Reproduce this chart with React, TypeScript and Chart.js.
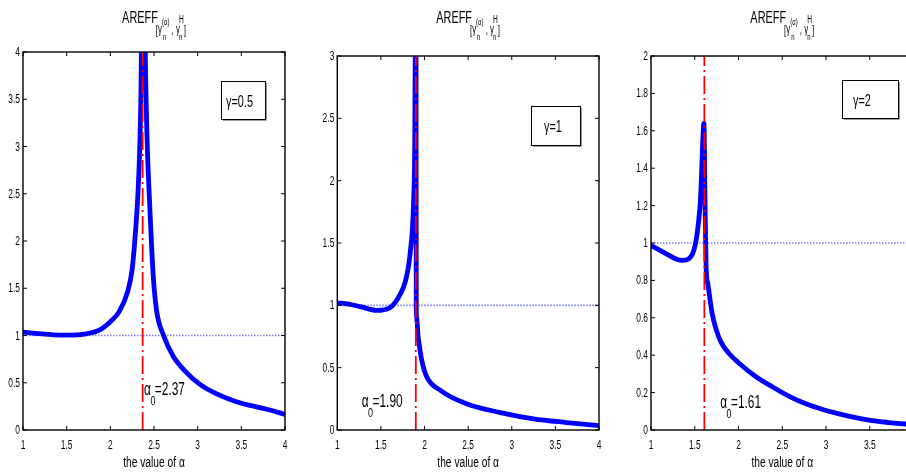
import React, { useEffect, useRef } from 'react';
import { Chart, registerables } from 'chart.js';

Chart.register(...registerables);

// ---------- data ----------
const X_TICKS = [1, 1.5, 2, 2.5, 3, 3.5, 4];
const X_TICK_LABELS = ['1', '1.5', '2', '2.5', '3', '3.5', '4'];

const Y_TICKS_1 = [0, 0.5, 1, 1.5, 2, 2.5, 3, 3.5, 4];
const Y_TICK_LABELS_1 = ['0', '0.5', '1', '1.5', '2', '2.5', '3', '3.5', '4'];
const Y_TICKS_2 = [0, 0.5, 1, 1.5, 2, 2.5, 3];
const Y_TICK_LABELS_2 = ['0', '0.5', '1', '1.5', '2', '2.5', '3'];
const Y_TICKS_3 = [0, 0.2, 0.4, 0.6, 0.8, 1, 1.2, 1.4, 1.6, 1.8, 2];
const Y_TICK_LABELS_3 = ['0', '0.2', '0.4', '0.6', '0.8', '1', '1.2', '1.4', '1.6', '1.8', '2'];

// gamma = 0.5
const ALPHA_1 = [1.0, 1.25, 1.5, 1.7, 1.88, 2.0, 2.1, 2.2, 2.25, 2.28, 2.31, 2.33, 2.345, 2.355, 2.37, 2.4, 2.42, 2.45, 2.49, 2.53, 2.61, 2.72, 2.87, 3.03, 3.2, 3.41, 3.6, 3.79, 4.0];
const AREFF_1 = [1.035, 1.015, 1.003, 1.015, 1.06, 1.146, 1.25, 1.47, 1.7, 2.0, 2.4, 2.8, 3.3, 4.0, 7.0, 4.0, 3.1, 2.4, 1.65, 1.26, 1.0, 0.78, 0.61, 0.48, 0.39, 0.31, 0.26, 0.22, 0.166];

// gamma = 1
const ALPHA_2 = [1.0, 1.13, 1.26, 1.45, 1.6, 1.73, 1.78, 1.82, 1.84, 1.86, 1.875, 1.887, 1.893, 1.898, 1.903, 1.905, 1.91, 1.925, 1.94, 1.968, 2.025, 2.178, 2.48, 2.87, 3.25, 3.63, 4.0];
const AREFF_2 = [1.02, 1.01, 0.99, 0.96, 0.98, 1.1, 1.19, 1.33, 1.45, 1.6, 1.84, 2.24, 3.0, 5.0, 3.0, 1.0, 0.9, 0.76, 0.68, 0.56, 0.427, 0.32, 0.21, 0.14, 0.09, 0.06, 0.035];

// gamma = 2
const ALPHA_3 = [1.0, 1.17, 1.3, 1.36, 1.46, 1.51, 1.545, 1.565, 1.58, 1.592, 1.605, 1.617, 1.63, 1.65, 1.7, 1.75, 1.8, 1.9, 2.0, 2.2, 2.39, 2.58, 2.77, 2.96, 3.15, 3.34, 3.53, 3.72, 3.91, 4.0];
const AREFF_3 = [0.987, 0.943, 0.912, 0.907, 0.93, 1.0, 1.12, 1.23, 1.4, 1.55, 1.64, 1.23, 0.87, 0.78, 0.62, 0.53, 0.47, 0.405, 0.36, 0.285, 0.23, 0.18, 0.14, 0.11, 0.086, 0.066, 0.05, 0.04, 0.032, 0.029];

const GAMMA_LABELS = ['γ=0.5', 'γ=1', 'γ=2'];
const ALPHA0 = [2.37, 1.9, 1.61];
const ALPHA0_LABELS = ['=2.37', '=1.90', '=1.61'];
const Y_MAX = [4, 3, 2];
const REF_LEVEL = 1;
const X_TITLE = 'the value of α';

// ---------- layout / style ----------
const FONT = '"Liberation Sans", Arial, Helvetica, sans-serif';
const SX = 0.66;
const H = 475;

type PanelCfg = {
  left: number; width: number;
  area: { left: number; right: number; top: number; bottom: number };
  alpha: number[]; areff: number[];
  yTicks: number[]; yLabels: string[]; yMax: number;
  a0: number; a0Label: string; gamma: string;
  box: { x: number; y: number; w: number; h: number; tx: number; ty: number };
  annot: { x: number; y: number };
};

const PANELS: PanelCfg[] = [
  {
    left: 0, width: 300,
    area: { left: 23, right: 285, top: 52, bottom: 430 },
    alpha: ALPHA_1, areff: AREFF_1, yTicks: Y_TICKS_1, yLabels: Y_TICK_LABELS_1, yMax: Y_MAX[0],
    a0: ALPHA0[0], a0Label: ALPHA0_LABELS[0], gamma: GAMMA_LABELS[0],
    box: { x: 221, y: 81, w: 44, h: 38, tx: 226, ty: 107 },
    annot: { x: 2.386, y: 0.37 },
  },
  {
    left: 300, width: 306,
    area: { left: 337.3, right: 599, top: 56, bottom: 430 },
    alpha: ALPHA_2, areff: AREFF_2, yTicks: Y_TICKS_2, yLabels: Y_TICK_LABELS_2, yMax: Y_MAX[1],
    a0: ALPHA0[1], a0Label: ALPHA0_LABELS[1], gamma: GAMMA_LABELS[1],
    box: { x: 531, y: 106, w: 49, h: 39, tx: 544, ty: 132 },
    annot: { x: 1.28, y: 0.187 },
  },
  {
    left: 606, width: 320,
    area: { left: 651, right: 913.5, top: 56, bottom: 430 },
    alpha: ALPHA_3, areff: AREFF_3, yTicks: Y_TICKS_3, yLabels: Y_TICK_LABELS_3, yMax: Y_MAX[2],
    a0: ALPHA0[2], a0Label: ALPHA0_LABELS[2], gamma: GAMMA_LABELS[2],
    box: { x: 842, y: 80, w: 56, h: 38, tx: 853, ty: 106 },
    annot: { x: 1.79, y: 0.116 },
  },
];

function measure(ctx: CanvasRenderingContext2D, s: string, size: number, sx = SX) {
  ctx.save();
  ctx.font = `${size}px ${FONT}`;
  const w = ctx.measureText(s).width * sx;
  ctx.restore();
  return w;
}

function txt(ctx: CanvasRenderingContext2D, s: string, x: number, y: number, size: number,
  align: CanvasTextAlign = 'left', baseline: CanvasTextBaseline = 'alphabetic', sx = SX) {
  ctx.save();
  ctx.font = `${size}px ${FONT}`;
  ctx.fillStyle = '#000';
  ctx.textAlign = align;
  ctx.textBaseline = baseline;
  ctx.translate(x, y);
  ctx.scale(sx, 1);
  ctx.fillText(s, 0, 0);
  ctx.restore();
}

type Seg = { t: string; s: number; dy: number; dx?: number };
type Part = Seg | { stack: Seg[] };
const TITLE_PARTS: Part[] = [
  { t: 'AREFF', s: 16.5, dy: 0 },
  { t: '[', s: 12, dy: 11, dx: -2 },
  { t: 'γ', s: 12, dy: 10 },
  { stack: [{ t: '(α)', s: 9, dy: 2 }, { t: 'n', s: 9, dy: 17, dx: 1 }] },
  { t: ' , ', s: 12, dy: 11 },
  { t: 'γ', s: 12, dy: 10 },
  { stack: [{ t: 'H', s: 10, dy: 0, dx: -1 }, { t: 'n', s: 9, dy: 17, dx: -1 }] },
  { t: ']', s: 12, dy: 11 },
];

function drawTitle(ctx: CanvasRenderingContext2D, cx: number, baseY: number) {
  const widthOf = (p: Part) =>
    'stack' in p
      ? Math.max(...p.stack.map((q) => measure(ctx, q.t, q.s) + (q.dx || 0)))
      : measure(ctx, p.t, p.s) + (p.dx || 0);
  const total = TITLE_PARTS.reduce((a, p) => a + widthOf(p), 0);
  let x = cx - total / 2;
  for (const p of TITLE_PARTS) {
    if ('stack' in p) {
      for (const q of p.stack) txt(ctx, q.t, x + (q.dx || 0), baseY + q.dy, q.s);
    } else {
      txt(ctx, p.t, x + (p.dx || 0), baseY + p.dy, p.s);
    }
    x += widthOf(p);
  }
}

function makeFramePlugin(cfg: PanelCfg) {
  return {
    id: 'matlabFrame',
    afterDraw(chart: any) {
      const ctx: CanvasRenderingContext2D = chart.ctx;
      const xs = chart.scales.x;
      const ys = chart.scales.y;
      const { left, right, top, bottom } = chart.chartArea;
      ctx.save();
      // frame
      ctx.strokeStyle = '#000';
      ctx.lineWidth = 1.4;
      ctx.strokeRect(left, top, right - left, bottom - top);
      // ticks (inward) and labels
      ctx.lineWidth = 1;
      xs.ticks.forEach((t: any, i: number) => {
        const px = xs.getPixelForValue(t.value);
        ctx.beginPath();
        ctx.moveTo(px, bottom); ctx.lineTo(px, bottom - 4);
        ctx.moveTo(px, top); ctx.lineTo(px, top + 4);
        ctx.stroke();
        txt(ctx, X_TICK_LABELS[i], px, bottom + 18.5, 12, 'center', 'alphabetic', 0.7);
      });
      ys.ticks.forEach((t: any, i: number) => {
        const py = ys.getPixelForValue(t.value);
        ctx.beginPath();
        ctx.moveTo(left, py); ctx.lineTo(left + 4, py);
        ctx.moveTo(right, py); ctx.lineTo(right - 4, py);
        ctx.stroke();
        txt(ctx, cfg.yLabels[i], left - 3, py + 4, 12, 'right', 'alphabetic', 0.7);
      });
      // axis title
      txt(ctx, X_TITLE, (left + right) / 2, 467, 15.5, 'center');
      // chart title
      drawTitle(ctx, (left + right) / 2, 23);
      // gamma box (canvas-relative coordinates)
      const bx = cfg.box.x - cfg.left;
      const tx = cfg.box.tx - cfg.left;
      ctx.fillStyle = '#fff';
      ctx.fillRect(bx, cfg.box.y, cfg.box.w, cfg.box.h);
      ctx.strokeStyle = '#9a9a9a';
      ctx.lineWidth = 1;
      ctx.beginPath();
      ctx.moveTo(bx + cfg.box.w + 1.5, cfg.box.y + 2);
      ctx.lineTo(bx + cfg.box.w + 1.5, cfg.box.y + cfg.box.h + 1.5);
      ctx.lineTo(bx + 2, cfg.box.y + cfg.box.h + 1.5);
      ctx.stroke();
      ctx.strokeStyle = '#000';
      ctx.strokeRect(bx + 0.5, cfg.box.y + 0.5, cfg.box.w, cfg.box.h);
      txt(ctx, cfg.gamma, tx, cfg.box.ty, 16.5);
      // alpha_0 annotation
      const ax = xs.getPixelForValue(cfg.annot.x);
      const ay = ys.getPixelForValue(cfg.annot.y);
      txt(ctx, 'α', ax, ay, 18);
      const wa = measure(ctx, 'α', 18);
      txt(ctx, '0', ax + wa - 0.5, ay + 10, 13.5);
      const w0 = measure(ctx, '0', 13.5);
      txt(ctx, cfg.a0Label, ax + wa + w0 - 1, ay, 18);
      ctx.restore();
    },
  };
}

function Panel({ cfg }: { cfg: PanelCfg }) {
  const ref = useRef<HTMLCanvasElement | null>(null);
  useEffect(() => {
    if (!ref.current) return;
    const curve = cfg.alpha.map((a, i) => ({ x: a, y: cfg.areff[i] }));
    const chart = new Chart(ref.current, {
      type: 'line',
      data: {
        datasets: [
          {
            data: [{ x: cfg.a0, y: 0 }, { x: cfg.a0, y: cfg.yMax }],
            borderColor: '#ff0000', borderWidth: 1.8, borderDash: [18, 4, 2, 4],
            pointRadius: 0, tension: 0, order: 0, clip: 0,
          },
          {
            data: curve,
            borderColor: '#0000ff', borderWidth: 4.8, pointRadius: 0,
            cubicInterpolationMode: 'monotone', tension: 0.4, order: 1, clip: 0,
            borderCapStyle: 'round', borderJoinStyle: 'round',
          },
          {
            data: [{ x: X_TICKS[0], y: REF_LEVEL }, { x: X_TICKS[X_TICKS.length - 1], y: REF_LEVEL }],
            borderColor: 'rgba(80,80,255,0.75)', borderWidth: 1.6, borderDash: [1.5, 1.5],
            pointRadius: 0, tension: 0, order: 2, clip: 0,
          },
        ],
      } as any,
      options: {
        responsive: false,
        animation: false,
        events: [],
        layout: {
          padding: {
            left: 0,
            right: cfg.left + cfg.width - cfg.area.right,
            top: cfg.area.top,
            bottom: 0,
          },
        },
        plugins: { legend: { display: false }, tooltip: { enabled: false }, title: { display: false } },
        scales: {
          x: {
            type: 'linear', min: X_TICKS[0], max: X_TICKS[X_TICKS.length - 1],
            ticks: { display: false }, grid: { display: false }, border: { display: false },
            afterBuildTicks: (s: any) => { s.ticks = X_TICKS.map((v) => ({ value: v })); },
            afterFit: (s: any) => { s.height = H - cfg.area.bottom; },
          },
          y: {
            type: 'linear', min: 0, max: cfg.yMax,
            ticks: { display: false }, grid: { display: false }, border: { display: false },
            afterBuildTicks: (s: any) => { s.ticks = cfg.yTicks.map((v) => ({ value: v })); },
            afterFit: (s: any) => { s.width = cfg.area.left - cfg.left; },
          },
        },
      } as any,
      plugins: [makeFramePlugin(cfg)],
    });
    return () => chart.destroy();
  }, [cfg]);
  return (
    <canvas
      ref={ref}
      width={cfg.width}
      height={H}
      style={{ position: 'absolute', left: cfg.left, top: 0, width: cfg.width, height: H }}
    />
  );
}

export default function App() {
  return (
    <div style={{ position: 'absolute', left: 0, top: 0, width: 906, height: H, overflow: 'hidden', background: '#fff' }}>
      {PANELS.map((p, i) => (
        <Panel key={i} cfg={p} />
      ))}
    </div>
  );
}
